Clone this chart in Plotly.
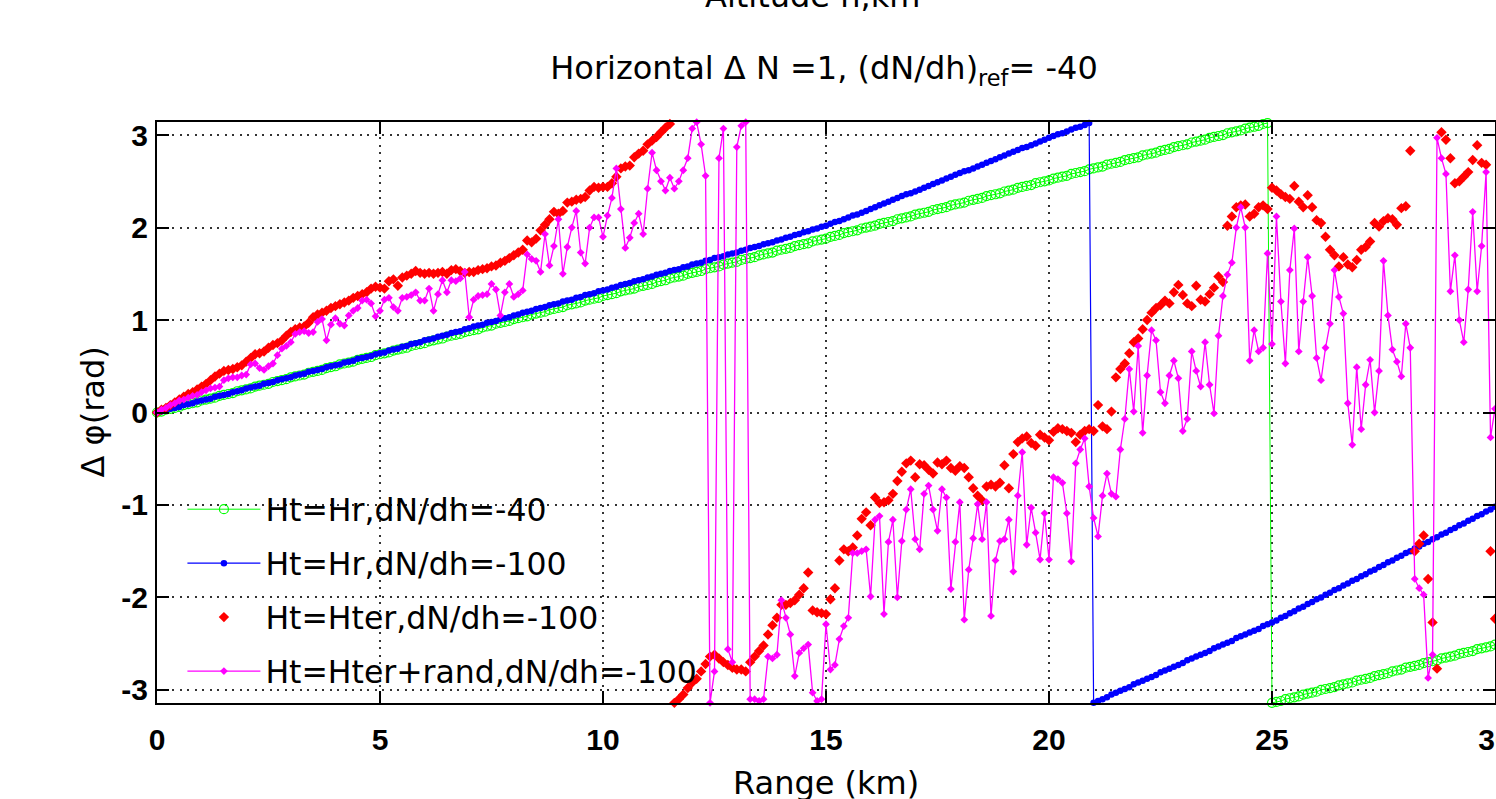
import plotly.graph_objects as go

# ---------------- data ----------------
range_step_km = 0.1  # sampling step of every series along Range (km)

green_hr_40 = [
    0.00, 0.01, 0.03, 0.04, 0.05, 0.06, 0.08, 0.09, 0.10, 0.11,
    0.13, 0.14, 0.15, 0.16, 0.18, 0.19, 0.20, 0.21, 0.23, 0.24,
    0.25, 0.26, 0.28, 0.29, 0.30, 0.31, 0.33, 0.34, 0.35, 0.36,
    0.38, 0.39, 0.40, 0.41, 0.43, 0.44, 0.45, 0.46, 0.48, 0.49,
    0.50, 0.52, 0.53, 0.54, 0.55, 0.57, 0.58, 0.59, 0.60, 0.62,
    0.63, 0.64, 0.65, 0.67, 0.68, 0.69, 0.70, 0.72, 0.73, 0.74,
    0.75, 0.77, 0.78, 0.79, 0.80, 0.82, 0.83, 0.84, 0.85, 0.87,
    0.88, 0.89, 0.90, 0.92, 0.93, 0.94, 0.96, 0.97, 0.98, 0.99,
    1.01, 1.02, 1.03, 1.04, 1.06, 1.07, 1.08, 1.09, 1.11, 1.12,
    1.13, 1.14, 1.16, 1.17, 1.18, 1.19, 1.21, 1.22, 1.23, 1.24,
    1.26, 1.27, 1.28, 1.29, 1.31, 1.32, 1.33, 1.34, 1.36, 1.37,
    1.38, 1.39, 1.41, 1.42, 1.43, 1.45, 1.46, 1.47, 1.48, 1.50,
    1.51, 1.52, 1.53, 1.55, 1.56, 1.57, 1.58, 1.60, 1.61, 1.62,
    1.63, 1.65, 1.66, 1.67, 1.68, 1.70, 1.71, 1.72, 1.73, 1.75,
    1.76, 1.77, 1.78, 1.80, 1.81, 1.82, 1.83, 1.85, 1.86, 1.87,
    1.88, 1.90, 1.91, 1.92, 1.94, 1.95, 1.96, 1.97, 1.99, 2.00,
    2.01, 2.02, 2.04, 2.05, 2.06, 2.07, 2.09, 2.10, 2.11, 2.12,
    2.14, 2.15, 2.16, 2.17, 2.19, 2.20, 2.21, 2.22, 2.24, 2.25,
    2.26, 2.27, 2.29, 2.30, 2.31, 2.32, 2.34, 2.35, 2.36, 2.37,
    2.39, 2.40, 2.41, 2.43, 2.44, 2.45, 2.46, 2.48, 2.49, 2.50,
    2.51, 2.53, 2.54, 2.55, 2.56, 2.58, 2.59, 2.60, 2.61, 2.63,
    2.64, 2.65, 2.66, 2.68, 2.69, 2.70, 2.71, 2.73, 2.74, 2.75,
    2.76, 2.78, 2.79, 2.80, 2.81, 2.83, 2.84, 2.85, 2.87, 2.88,
    2.89, 2.90, 2.92, 2.93, 2.94, 2.95, 2.97, 2.98, 2.99, 3.00,
    3.02, 3.03, 3.04, 3.05, 3.07, 3.08, 3.09, 3.10, 3.12, 3.13,
    -3.14, -3.13, -3.12, -3.10, -3.09, -3.08, -3.07, -3.05, -3.04, -3.03,
    -3.02, -3.00, -2.99, -2.98, -2.97, -2.95, -2.94, -2.93, -2.92, -2.90,
    -2.89, -2.88, -2.87, -2.85, -2.84, -2.83, -2.82, -2.80, -2.79, -2.78,
    -2.76, -2.75, -2.74, -2.73, -2.71, -2.70, -2.69, -2.68, -2.66, -2.65,
    -2.64, -2.63, -2.61, -2.60, -2.59, -2.58, -2.56, -2.55, -2.54, -2.53,
    -2.51,
]

blue_hr_100 = [
    0.00, 0.01, 0.03, 0.04, 0.05, 0.06, 0.08, 0.09, 0.10, 0.12,
    0.13, 0.14, 0.15, 0.17, 0.18, 0.19, 0.20, 0.22, 0.23, 0.24,
    0.26, 0.27, 0.28, 0.29, 0.31, 0.32, 0.33, 0.35, 0.36, 0.37,
    0.38, 0.40, 0.41, 0.42, 0.44, 0.45, 0.46, 0.47, 0.49, 0.50,
    0.51, 0.52, 0.54, 0.55, 0.56, 0.58, 0.59, 0.60, 0.61, 0.63,
    0.64, 0.65, 0.67, 0.68, 0.69, 0.71, 0.72, 0.74, 0.75, 0.76,
    0.78, 0.79, 0.80, 0.82, 0.83, 0.84, 0.86, 0.87, 0.88, 0.90,
    0.91, 0.93, 0.94, 0.95, 0.97, 0.98, 0.99, 1.01, 1.02, 1.03,
    1.05, 1.06, 1.08, 1.09, 1.10, 1.12, 1.13, 1.14, 1.16, 1.17,
    1.18, 1.20, 1.21, 1.22, 1.24, 1.25, 1.27, 1.28, 1.29, 1.31,
    1.32, 1.33, 1.35, 1.36, 1.38, 1.39, 1.40, 1.42, 1.43, 1.44,
    1.46, 1.47, 1.49, 1.50, 1.51, 1.53, 1.54, 1.55, 1.57, 1.58,
    1.60, 1.61, 1.62, 1.64, 1.65, 1.67, 1.68, 1.69, 1.71, 1.72,
    1.73, 1.75, 1.76, 1.78, 1.79, 1.80, 1.82, 1.83, 1.84, 1.86,
    1.87, 1.89, 1.90, 1.92, 1.93, 1.95, 1.96, 1.98, 1.99, 2.01,
    2.02, 2.04, 2.06, 2.07, 2.09, 2.11, 2.13, 2.14, 2.16, 2.18,
    2.20, 2.22, 2.24, 2.26, 2.28, 2.30, 2.32, 2.34, 2.36, 2.37,
    2.39, 2.41, 2.43, 2.45, 2.47, 2.49, 2.51, 2.53, 2.55, 2.57,
    2.59, 2.61, 2.62, 2.64, 2.66, 2.68, 2.70, 2.72, 2.74, 2.76,
    2.78, 2.80, 2.82, 2.84, 2.86, 2.87, 2.89, 2.91, 2.93, 2.95,
    2.97, 2.99, 3.01, 3.02, 3.04, 3.06, 3.08, 3.09, 3.11, 3.13,
    -3.14, -3.12, -3.10, -3.08, -3.05, -3.03, -3.01, -2.99, -2.97, -2.94,
    -2.92, -2.90, -2.88, -2.86, -2.84, -2.81, -2.79, -2.77, -2.75, -2.73,
    -2.71, -2.68, -2.66, -2.64, -2.62, -2.60, -2.58, -2.55, -2.53, -2.51,
    -2.49, -2.47, -2.44, -2.42, -2.40, -2.38, -2.36, -2.34, -2.31, -2.29,
    -2.27, -2.25, -2.22, -2.20, -2.17, -2.15, -2.12, -2.10, -2.07, -2.05,
    -2.02, -2.00, -1.97, -1.95, -1.92, -1.90, -1.87, -1.85, -1.82, -1.80,
    -1.77, -1.75, -1.72, -1.70, -1.67, -1.65, -1.62, -1.60, -1.57, -1.55,
    -1.52, -1.50, -1.47, -1.45, -1.42, -1.40, -1.37, -1.35, -1.32, -1.30,
    -1.27, -1.25, -1.22, -1.20, -1.17, -1.15, -1.12, -1.10, -1.07, -1.05,
    -1.02,
]

red_hter_100 = [
    0.00, 0.03, 0.05, 0.08, 0.11, 0.14, 0.17, 0.20, 0.22, 0.25,
    0.28, 0.31, 0.35, 0.39, 0.42, 0.45, 0.46, 0.47, 0.49, 0.51,
    0.55, 0.59, 0.63, 0.64, 0.66, 0.70, 0.73, 0.75, 0.78, 0.83,
    0.87, 0.90, 0.92, 0.93, 0.97, 1.03, 1.06, 1.08, 1.10, 1.13,
    1.15, 1.17, 1.19, 1.21, 1.24, 1.26, 1.28, 1.30, 1.34, 1.36,
    1.35, 1.34, 1.42, 1.44, 1.37, 1.46, 1.48, 1.50, 1.53, 1.51,
    1.50, 1.51, 1.50, 1.51, 1.52, 1.50, 1.54, 1.55, 1.53, 1.51,
    1.52, 1.52, 1.54, 1.55, 1.56, 1.58, 1.59, 1.62, 1.64, 1.67,
    1.70, 1.73, 1.76, 1.86, 1.84, 1.88, 1.97, 2.03, 2.09, 2.17,
    2.15, 2.18, 2.27, 2.28, 2.30, 2.31, 2.33, 2.40, 2.44, 2.43,
    2.44, 2.44, 2.48, 2.55, 2.64, 2.66, 2.67, 2.76, 2.80, 2.83,
    2.90, 2.94, 2.98, 3.03, 3.08, 3.12, -3.14, -3.10, -3.05, -2.98,
    -2.92, -2.88, -2.80, -2.72, -2.64, -2.62, -2.66, -2.70, -2.73, -2.76,
    -2.78, -2.78, -2.80, -2.70, -2.64, -2.58, -2.52, -2.40, -2.30, -2.22,
    -2.08, -2.08, -2.06, -2.03, -1.97, -1.90, -1.73, -2.14, -2.16, -2.17,
    -2.18, -2.02, -1.90, -1.60, -1.48, -1.50, -1.46, -1.33, -1.15, -1.08,
    -1.22, -0.92, -0.98, -0.97, -0.95, -0.88, -0.74, -0.64, -0.55, -0.52,
    -0.70, -0.56, -0.57, -0.62, -0.66, -0.54, -0.56, -0.52, -0.60, -0.63,
    -0.58, -0.60, -0.70, -0.82, -0.90, -0.95, -0.80, -0.78, -0.80, -0.76,
    -0.57, -0.82, -0.45, -0.32, -0.28, -0.26, -0.33, -0.36, -0.24, -0.27,
    -0.30, -0.21, -0.17, -0.18, -0.20, -0.22, -0.32, -0.24, -0.20, -0.18,
    -0.20, 0.08, -0.15, -0.18, 0.01, 0.38, 0.47, 0.53, 0.64, 0.76,
    0.80, 0.90, 1.00, 1.08, 1.13, 1.16, 1.21, 1.18, 1.30, 1.38,
    1.27, 1.18, 1.15, 1.37, 1.22, 1.20, 1.28, 1.35, 1.47, 1.41,
    2.02, 2.12, 2.22, 2.24, 2.25, 2.12, 2.15, 2.22, 2.24, 2.20,
    2.43, 2.40, 2.36, 2.33, 2.31, 2.45, 2.28, 2.22, 2.35, 2.22,
    2.08, 2.05, 1.90, 1.76, 1.70, 1.58, 1.68, 1.60, 1.57, 1.65,
    1.76, 1.79, 1.85, 2.05, 2.01, 2.07, 2.10, 2.09, 2.03, 2.21,
    2.23, 2.83, -1.50, -1.42, -1.33, -1.80, -2.27, -2.77, 3.03, 2.95,
    2.75, 2.48, 2.50, 2.55, 2.60, 2.73, 2.89, 2.70, 2.68, -1.50,
    -2.23,
]

magenta_hter_rand_100 = [
    0.00, 0.03, 0.05, 0.08, 0.10, 0.13, 0.14, 0.16, 0.18, 0.19,
    0.22, 0.24, 0.26, 0.27, 0.28, 0.35, 0.37, 0.38, 0.38, 0.40,
    0.41, 0.52, 0.53, 0.48, 0.46, 0.50, 0.53, 0.62, 0.69, 0.72,
    0.76, 0.85, 0.87, 0.88, 0.86, 0.87, 0.98, 1.01, 0.78, 0.95,
    1.02, 0.96, 0.94, 1.05, 1.10, 1.13, 1.21, 1.22, 1.18, 1.04,
    1.10, 1.22, 1.24, 1.14, 1.10, 1.24, 1.25, 1.27, 1.30, 1.21,
    1.21, 1.34, 1.10, 1.28, 1.43, 1.30, 1.43, 1.42, 1.45, 1.52,
    1.03, 1.22, 1.26, 1.27, 1.28, 1.39, 1.33, 1.05, 1.30, 1.39,
    1.25, 1.28, 1.32, 1.71, 1.66, 1.64, 1.52, 1.93, 1.59, 1.80,
    2.09, 1.50, 1.79, 2.00, 2.18, 1.73, 1.61, 2.00, 2.11, 2.11,
    1.90, 2.13, 2.32, 2.64, 2.20, 1.78, 1.89, 2.05, 2.15, 1.93,
    2.42, 2.81, 2.62, 2.50, 2.40, 2.54, 2.42, 2.50, 2.62, 2.75,
    3.07, 3.14, 2.90, 2.56, -3.14, -2.80, 2.75, 3.07, -2.56, -2.70,
    2.87, 3.10, 3.14, -3.10, -3.10, -3.12, -3.10, -2.64, -2.66, -2.62,
    -2.03, -2.22, -2.40, -2.85, -2.60, -2.55, -2.51, -3.03, -3.12, -3.10,
    -2.29, -2.78, -2.73, -2.45, -2.31, -2.22, -1.52, -1.52, -1.50, -1.48,
    -1.99, -1.16, -1.12, -2.18, -1.40, -1.16, -2.00, -1.39, -1.05, -0.83,
    -1.37, -1.48, -0.88, -0.79, -1.05, -1.28, -0.83, -0.92, -1.91, -1.40,
    -0.97, -2.24, -1.70, -1.36, -0.99, -1.37, -0.97, -2.20, -1.60, -1.39,
    -1.37, -1.16, -1.72, -0.90, -0.43, -1.43, -1.03, -1.30, -1.59, -1.09,
    -1.59, -0.70, -0.72, -0.76, -1.09, -1.61, -0.55, -0.40, -0.28, -0.80,
    -1.14, -1.34, -0.90, -0.66, -0.88, -0.91, -0.40, -0.07, 0.47, 0.01,
    0.72, -0.22, 0.40, 0.89, 0.78, 0.22, 0.10, 0.40, 0.56, 0.37,
    -0.20, -0.07, 0.66, 0.45, 0.28, 0.76, 0.30, -0.01, 0.83, 1.26,
    1.49, 1.62, 2.00, 2.22, 2.00, 0.56, 0.89, 0.66, 0.70, 1.72,
    0.74, 2.12, 1.20, 0.53, 1.54, 1.99, 0.66, 1.20, 1.68, 1.26,
    0.59, 0.35, 0.70, 0.96, 1.54, 1.25, 1.07, 0.10, -0.35, 0.49,
    -0.18, 0.30, 0.57, 0.00, 0.45, 1.64, 1.05, 0.68, 0.55, 0.39,
    0.96, 0.70, -1.80, -1.90, -1.97, -2.87, -2.62, 2.97, 2.75, 2.58,
    1.31, 1.70, 1.00, 0.76, 1.33, 2.17, 1.31, 1.80, 2.60, -0.27,
    0.04,
]

series_names = [
    "Ht=Hr,dN/dh=-40",
    "Ht=Hr,dN/dh=-100",
    "Ht=Hter,dN/dh=-100",
    "Ht=Hter+rand,dN/dh=-100",
]

x_tick_values = [0, 5, 10, 15, 20, 25, 30]
x_tick_labels = ["0", "5", "10", "15", "20", "25", "30"]
y_tick_values = [-3, -2, -1, 0, 1, 2, 3]
y_tick_labels = ["-3", "-2", "-1", "0", "1", "2", "3"]
PI = 3.141592653589793


def xs(values):
    return [round(i * range_step_km, 1) for i in range(len(values))]


TXT = "DejaVu Sans, Verdana, sans-serif"
TICK = "Liberation Sans, Arial, Helvetica, sans-serif"

fig = go.Figure()

fig.add_trace(go.Scatter(
    x=xs(green_hr_40), y=green_hr_40, name=series_names[0], mode="lines+markers",
    line=dict(color="#00ff00", width=1),
    marker=dict(symbol="circle-open", size=9, color="#00ff00", line=dict(width=1.2, color="#00ff00")),
    cliponaxis=False, legendgroup="g1",
))
fig.add_trace(go.Scatter(
    x=xs(blue_hr_100), y=blue_hr_100, name=series_names[1], mode="lines+markers",
    line=dict(color="#0000ff", width=1.2),
    marker=dict(symbol="circle", size=6.5, color="#0000ff"),
    cliponaxis=False, legendgroup="g2",
))
fig.add_trace(go.Scatter(
    x=xs(red_hter_100), y=red_hter_100, name=series_names[2], mode="markers",
    marker=dict(symbol="diamond", size=8, color="#ff0000"),
    cliponaxis=False, legendgroup="g3",
))
fig.add_trace(go.Scatter(
    x=xs(magenta_hter_rand_100), y=magenta_hter_rand_100, name=series_names[3], mode="lines+markers",
    line=dict(color="#ff00ff", width=1.3),
    marker=dict(symbol="diamond", size=6, color="#ff00ff"),
    cliponaxis=False, legendgroup="g4",
))

axis_common = dict(
    showgrid=True, gridcolor="#333333", gridwidth=1.5, griddash="2px,5.5px",
    showline=True, linecolor="black", linewidth=2, mirror="ticks",
    ticks="inside", ticklen=12, tickwidth=1.5, tickcolor="black",
    zeroline=False, tickfont=dict(size=30, family=TICK, color="black", weight="bold"),
)

fig.update_layout(
    width=1496, height=799,
    margin=dict(l=157, r=1, t=122, b=96, autoexpand=False),
    paper_bgcolor="white", plot_bgcolor="white",
    font=dict(family=TXT, color="black"),
    title=dict(text="Horizontal \u0394 N =1, (dN/dh)<sub>ref</sub>= -40",
               x=824 / 1496, xanchor="center", y=1 - 68 / 799, yanchor="middle",
               font=dict(size=32, family=TXT)),
    xaxis=dict(range=[0, 30], tickvals=x_tick_values, ticktext=x_tick_labels,
               ticklabelstandoff=9, ticklabeloverflow="allow", **axis_common),
    yaxis=dict(range=[-PI, PI], tickvals=y_tick_values, ticktext=y_tick_labels,
               ticklabelstandoff=1, ticklabeloverflow="allow", **axis_common),
    showlegend=True,
    legend=dict(x=0.019, y=0.38, xanchor="left", yanchor="top",
                bgcolor="rgba(0,0,0,0)", borderwidth=0,
                font=dict(size=31.5, family=TXT, color="black"),
                itemwidth=73, tracegroupgap=10, traceorder="grouped"),
    annotations=[
        dict(text="Range (km)", xref="paper", yref="paper", x=0.5, y=(703 - 762) / 581,
             xanchor="center", yanchor="top", showarrow=False, font=dict(size=32, family=TXT)),
        dict(text="\u0394 \u03c6(rad)", xref="paper", yref="paper", x=(92 - 157) / 1338, y=0.5,
             xanchor="center", yanchor="middle", textangle=-90, showarrow=False,
             font=dict(size=32, family=TXT)),
        dict(text="Altitude h,km", xref="paper", yref="paper", x=(812 - 157) / 1338,
             y=(703 - 17) / 581, xanchor="center", yanchor="bottom", showarrow=False,
             font=dict(size=32, family=TXT)),
    ],
)

fig.write_html("out.html")
